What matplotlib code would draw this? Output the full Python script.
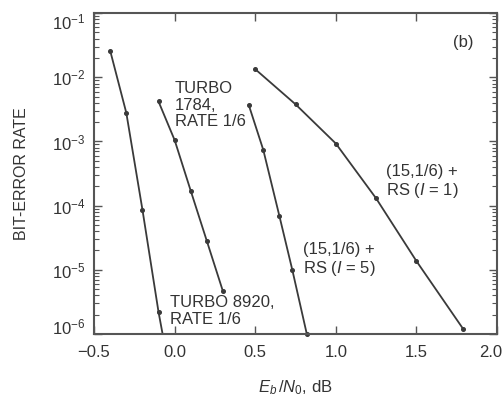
import numpy as np
import matplotlib
matplotlib.use("Agg")
import matplotlib.pyplot as plt
import matplotlib.transforms as mtransforms
from matplotlib.ticker import LogLocator, FixedLocator, NullLocator

plt.rcParams['font.family'] = ['Liberation Sans', 'DejaVu Sans']
plt.rcParams['mathtext.fontset'] = 'custom'
plt.rcParams['mathtext.rm'] = 'Liberation Sans'
plt.rcParams['mathtext.it'] = 'Liberation Sans:italic'
plt.rcParams['mathtext.bf'] = 'Liberation Sans:bold'
plt.rcParams['axes.unicode_minus'] = True

# Data (Eb/N0 in dB, bit-error rate)
turbo8920_x = [-0.4, -0.3, -0.2, -0.1]
turbo8920_y = [2.6e-2, 2.8e-3, 8.7e-5, 2.2e-6]
turbo8920_tail_x = [-0.1, -0.06]
turbo8920_tail_y = [2.2e-6, 6.3e-7]

turbo1784_x = [-0.1, 0.0, 0.1, 0.2, 0.3]
turbo1784_y = [4.2e-3, 1.05e-3, 1.7e-4, 2.8e-5, 4.6e-6]

rs5_x = [0.46, 0.55, 0.65, 0.73, 0.82]
rs5_y = [3.7e-3, 7.4e-4, 6.9e-5, 1.0e-5, 1.0e-6]

rs1_x = [0.5, 0.75, 1.0, 1.25, 1.5, 1.79]
rs1_y = [1.34e-2, 3.8e-3, 9.3e-4, 1.3e-4, 1.37e-5, 1.2e-6]

x_ticks = [-0.5, 0.0, 0.5, 1.0, 1.5, 2.0]
x_tick_labels = ['\u22120.5', '0.0', '0.5', '1.0', '1.5', '2.0']

line_color = '#3a3a3a'
text_color = '#333333'
spine_color = '#555555'

fig = plt.figure(figsize=(5.03, 3.99), dpi=100)
ax = fig.add_axes([0.187, 0.163, 0.801, 0.804])

ax.set_yscale('log')
ax.set_xlim(-0.5, 2.0)
ax.set_ylim(1e-6, 1e-1)

kw = dict(color=line_color, lw=1.3, marker='o', ms=2.6, mfc=line_color, mec=line_color, clip_on=False)
ax.plot(turbo8920_x, turbo8920_y, **kw)
ax.plot(turbo8920_tail_x, turbo8920_tail_y, color=line_color, lw=1.3)
ax.plot(turbo1784_x, turbo1784_y, **kw)
ax.plot(rs5_x, rs5_y, **kw)
ax.plot(rs1_x, rs1_y, **kw)

fs = 12
tk = dict(fontsize=fs, color=text_color, ha='left', va='center', linespacing=1.15)
ax.text(0.0, 3.7e-3, 'TURBO\n1784,\nRATE 1/6', **tk)
ax.text(-0.03, 2.3e-6, 'TURBO 8920,\nRATE 1/6', **tk)
ax.text(0.797, 1.42e-5, '(15,1/6) +\nRS ($I$ = 5)', **tk)
ax.text(1.311, 2.3e-4, '(15,1/6) +\nRS ($I$ = 1)', **tk)
ax.text(1.79, 3.5e-2, '(b)', fontsize=fs, color=text_color, ha='center', va='center')

ax.xaxis.set_major_locator(FixedLocator(x_ticks))
ax.set_xticklabels(x_tick_labels)
ax.xaxis.set_minor_locator(NullLocator())
ax.yaxis.set_major_locator(LogLocator(base=10, numticks=10))
ax.yaxis.set_minor_locator(LogLocator(base=10, subs=np.arange(2, 10), numticks=10))

ax.tick_params(axis='both', which='major', direction='in', length=6, width=1.0,
               color=spine_color, labelsize=fs, labelcolor=text_color,
               top=True, right=True, pad=6)
ax.tick_params(axis='x', which='major', pad=8)
ax.tick_params(axis='y', which='minor', direction='in', length=3.5, width=0.8,
               color=spine_color, left=True, right=True)

for s in ax.spines.values():
    s.set_color(spine_color)
    s.set_linewidth(1.5)

ax.set_ylabel('BIT-ERROR RATE', fontsize=11.5, color=text_color, va='center')
ax.yaxis.set_label_coords(-0.179, 0.5)
ax.set_xlabel(r'$E_b\,/N_0$, dB', fontsize=12, color=text_color, va='center')
ax.xaxis.set_label_coords(0.5, -0.168)

fig.canvas.draw()
# nudge edge tick labels as in the reference
xl = ax.get_xticklabels()
xl[-1].set_transform(xl[-1].get_transform() + mtransforms.ScaledTranslation(-6 / 100, 0, fig.dpi_scale_trans))
yticks = ax.yaxis.get_major_ticks()
ylocs = ax.yaxis.get_majorticklocs()
for t, loc in zip(yticks, ylocs):
    if np.isclose(loc, 1e-1):
        t.label1.set_transform(t.label1.get_transform() + mtransforms.ScaledTranslation(0, -8 / 100, fig.dpi_scale_trans))
    elif np.isclose(loc, 1e-6):
        t.label1.set_transform(t.label1.get_transform() + mtransforms.ScaledTranslation(0, 8 / 100, fig.dpi_scale_trans))

fig.savefig('out.png', dpi=100)
